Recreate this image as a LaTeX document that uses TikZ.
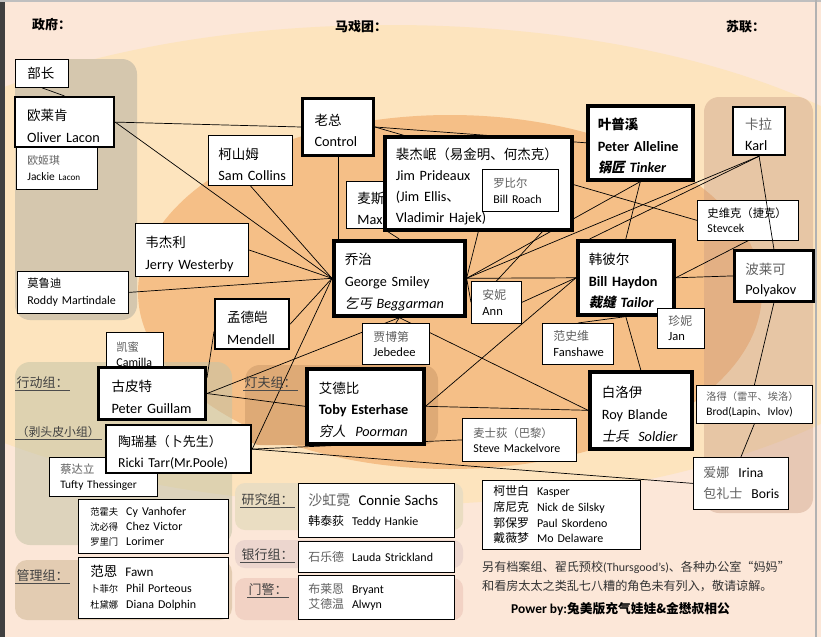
\documentclass[tikz,border=0pt]{standalone}
\usepackage{fontspec}
\setmainfont{Carlito}[Scale=1.14]
\newfontfamily\zhfont{Noto Sans CJK SC}[Scale=1.08]
\newfontfamily\zhslfont{Noto Sans CJK SC}[Scale=1.08,FakeSlant=0.2]
\newcommand\zhsize[1]{\ifx\relax#1\relax\else\fontsize{#1}{\baselineskip}\selectfont\fi}
\newcommand\zh[2][]{{\zhsize{#1}\zhfont #2}}
\newcommand\zhg[2][]{{\zhsize{#1}\color{zhgray}\zhfont #2}}
\newcommand\zhsl[2][]{{\zhsize{#1}\zhslfont #2}}
\newcommand\fsz[2]{\fontsize{#1}{#2}\selectfont}
\definecolor{zhgray}{HTML}{5F5F5F}
\definecolor{peach}{HTML}{FCE7D8}
\definecolor{paleyellow}{HTML}{FDE4BE}
\definecolor{orangefill}{HTML}{F5BF87}
\definecolor{govtfill}{HTML}{D5C7AE}
\definecolor{sovietfill}{HTML}{C89A80}
\definecolor{actionfill}{HTML}{C5C4A6}
\definecolor{adminfill}{HTML}{E3CCB2}
\definecolor{lampfill}{HTML}{DEAA76}
\definecolor{researchfill}{HTML}{EADDC2}
\definecolor{bankfill}{HTML}{ECD6CE}
\definecolor{guardfill}{HTML}{F2D2C4}
\pgfdeclarelayer{shapes}
\pgfdeclarelayer{links}
\pgfsetlayers{shapes,links,main}

\begin{document}
\begin{tikzpicture}[x=1pt,y=-1pt,
  pbox/.style={draw, fill=white, line width=0.8pt, anchor=north west, align=left, inner ysep=0pt},
  mbox/.style={pbox, line width=2.2pt},
  kbox/.style={pbox, line width=3.6pt},
  low/.style={execute at begin node={\rule{0pt}{1.3em}}},
  bx/.code n args={3}{\pgfmathsetmacro\boxtw{#1-2*#3}%
    \edef\boxopts{minimum width=#1pt, minimum height=#2pt, inner xsep=#3pt, text width=\boxtw pt}%
    \expandafter\pgfkeysalso\expandafter{\boxopts}},
  title/.style={anchor=west, inner sep=0pt, font=\fsz{12}{14}\bfseries},
  grp/.style={anchor=west, inner sep=1.5pt, font=\fsz{12}{14}, text=black!75},
  link/.style={line width=0.7pt}]
\useasboundingbox (0,0) rectangle (821,637);

\begin{pgfonlayer}{shapes}
\fill[peach] (0,0) rectangle (821,637);
\fill[paleyellow] (390,265) ellipse [x radius=575, y radius=240];
\fill[orangefill] (450,292) ellipse [x radius=312, y radius=177];
\fill[govtfill, rounded corners=15pt] (15,59) rectangle (137,320);
\fill[sovietfill, opacity=0.4, rounded corners=15pt] (704,97) rectangle (813,513);
\fill[actionfill, opacity=0.55, rounded corners=15pt] (15,362) rectangle (232,545);
\fill[adminfill, rounded corners=12pt] (15,560) rectangle (232,620);
\fill[lampfill, rounded corners=15pt] (245,365) rectangle (438,445);
\fill[researchfill, rounded corners=10pt] (235,483) rectangle (463,530);
\fill[bankfill, rounded corners=10pt] (235,540) rectangle (463,568);
\fill[guardfill, rounded corners=10pt] (235,578) rectangle (463,620);
\fill[black!75] (0,0) rectangle (5,637);
\fill[black!25] (0,0) rectangle (821,2);
\fill[black!30] (815,0) rectangle (817,637);
\end{pgfonlayer}

% headings
\node[title] (zhengfu) at (32,25) {\zh{政府：}};
\node[title] (maxituan) at (335,27) {\zh{马戏团：}};
\node[title] (sulian) at (726,27) {\zh{苏联：}};

% government
\node[pbox, bx={53}{28}{12}, font=\fsz{12.5}{15}] (buzhang) at (15,59) {\zh{部长}};
\node[pbox, bx={81}{43}{11}, font=\fsz{10}{16}] (jackie) at (16,146) {\zhg[10]{欧姬琪}\\Jackie~{\fsz{8}{16}Lacon}};
\node[mbox, low, bx={99}{50}{12}, font=\fsz{12.5}{22}] (lacon) at (14,96) {\zh[12.5]{欧莱肯}\\Oliver~Lacon};
\node[pbox, bx={111}{42}{10}, font=\fsz{10.5}{17}] (roddy) at (17,271) {\zh[10.5]{莫鲁迪}\\Roddy~Martindale};

% circus
\node[pbox, low, bx={84}{50}{10}, font=\fsz{12.5}{21}] (collins) at (208,135) {\zh[12.5]{柯山姆}\\Sam~Collins};
\node[kbox, low, line width=3pt, bx={71}{57}{12}, font=\fsz{12.5}{21}] (control) at (301,97) {\zh[12.5]{老总}\\Control};
\node[pbox, low, bx={74}{47}{11}, font=\fsz{12.5}{21}] (max) at (346,181) {\zh[12.5]{麦斯}\\Max};
\node[kbox, low, bx={187}{93}{11}, font=\fsz{12.5}{21}] (jim) at (383,135) {\zh[12.5]{裴杰岷（易金明、何杰克）}\\Jim~Prideaux\\(Jim~Ellis\zh[12.5]{、}\\Vladimir~Hajek)};
\node[pbox, bx={76}{42}{11}, font=\fsz{10.5}{16}] (roach) at (482,169) {\zhg[10.5]{罗比尔}\\Bill~Roach};
\node[kbox, low, bx={105}{74}{10}, font=\fsz{12.5}{21.5}\bfseries] (alleline) at (586,104) {\zh[12.5]{叶普溪}\\Peter~Alleline\\\zhsl[12.5]{锅匠}~\textit{Tinker}};
\node[pbox, low, bx={113}{53}{10}, font=\fsz{12.5}{22}] (jerry) at (135,223) {\zh[12.5]{韦杰利}\\Jerry~Westerby};
\node[kbox, low, bx={131}{75}{11}, font=\fsz{12.5}{22}] (smiley) at (332,239) {\zh[12.5]{乔治}\\George~Smiley\\\zhsl[12.5]{乞丐}~\textit{Beggarman}};
\node[pbox, bx={50}{42}{11}, font=\fsz{11}{16}] (ann) at (471,281) {\zhg[11]{安妮}\\Ann};
\node[kbox, low, bx={96}{74}{11}, font=\fsz{12.5}{21.5}] (haydon) at (576,239) {\zh[12.5]{韩彼尔}\\\textbf{Bill~Haydon}\\\textbf{\zhsl[12.5]{裁缝}~\textit{Tailor}}};
\node[pbox, bx={67}{41}{11}, font=\fsz{11}{15.5}] (jebedee) at (362,323) {\zhg[11]{贾博第}\\Jebedee};
\node[mbox, low, bx={74}{50}{12}, font=\fsz{12.5}{22}] (mendell) at (214,298) {\zh[12.5]{孟德皑}\\Mendell};
\node[pbox, bx={71}{41}{11}, font=\fsz{11}{16}] (fanshawe) at (542,323) {\zhg[11]{范史维}\\Fanshawe};
\node[pbox, bx={47}{40}{11}, font=\fsz{11}{15}] (jan) at (657,308) {\zhg[11]{珍妮}\\Jan};
\node[kbox, low, bx={117}{75}{12}, font=\fsz{12.5}{21.5}] (toby) at (305,367) {\zh[12.5]{艾德比}\\\textbf{Toby~Esterhase}\\\zhsl[12.5]{穷人}~~\textit{Poorman}};
\node[kbox, low, bx={102}{77}{12}, font=\fsz{12.5}{22}] (roy) at (588,370) {\zh[12.5]{白洛伊}\\Roy~Blande\\\zhsl[12.5]{士兵}~~\textit{Soldier}};
\node[pbox, bx={114}{43}{11}, font=\fsz{10.5}{15}] (steve) at (462,418) {\zhg[10.5]{麦士荻（巴黎）}\\Steve~Mackelvore};

% soviets
\node[mbox, low, bx={52}{48}{12}, font=\fsz{12.5}{21}] (karl) at (732,106) {\zhg[12.5]{卡拉}\\Karl};
\node[pbox, bx={101}{40}{10}, font=\fsz{10.5}{15}] (stevcek) at (697,200) {\zh[10.5]{史维克（捷克）}\\Stevcek};
\node[kbox, low, line width=2.8pt, bx={79}{51}{11}, font=\fsz{12.5}{20}] (polyakov) at (733,249) {\zhg[12.5]{波莱可}\\Polyakov};
\node[pbox, bx={116}{38}{10}, font=\fsz{10}{15}] (brod) at (696,385) {\zhg[9.5]{洛得（雷平、埃洛）}\\Brod(Lapin\zh[10]{、}Ivlov)};
\node[pbox, bx={95}{52}{10}, font=\fsz{12}{21}] (irina) at (693,457) {\zhg[12]{爱娜}~~Irina\\\zhg[12]{包礼士}~~Boris};

% action group
\node[grp] (xingdong) at (15,383) {\zh{行动组：}};
\node[grp, font=\fsz{11}{13}] (botoupi) at (15,432) {\zh{（剥头皮小组）}};
\node[pbox, bx={57}{43}{10}, font=\fsz{10.5}{15}] (camilla) at (106,332) {\zhg[10.5]{凯蜜}\\Camilla};
\node[kbox, low, line width=3pt, bx={107}{52}{13}, font=\fsz{12.5}{22}] (guillam) at (97,366) {\zh[12.5]{古皮特}\\Peter~Guillam};
\node[pbox, bx={108}{39}{11}, font=\fsz{10}{15}] (tufty) at (49,457) {\zhg[10.5]{蔡达立}\\Tufty~Thessinger};
\node[mbox, low, bx={145}{48}{12}, font=\fsz{12}{21}] (ricki) at (105,424) {\zh[12]{陶瑞基（卜先生）}\\Ricki~Tarr(Mr.Poole)};
\node[pbox, bx={150}{54}{12}, font=\fsz{10.5}{15}] (cy) at (78,499) {\zh[8.6]{范霍夫}~~Cy~Vanhofer\\\zh[8.6]{沈必得}~~Chez~Victor\\\zh[8.6]{罗里门}~~Lorimer};
\node[grp] (guanli) at (15,576) {\zh{管理组：}};
\node[pbox, bx={150}{61}{12}, font=\fsz{10.5}{16}] (fawn) at (78,557) {\zh[12.5]{范恩}~~{\fsz{11.5}{16}Fawn}\\\zh[8.6]{卜菲尔}~~Phil~Porteous\\\zh[8.6]{杜黛娜}~~Diana~Dolphin};
\node[grp] (dengfu) at (243,383) {\zh{灯夫组：}};

% research, bank, gate
\node[grp] (yanjiu) at (240,500) {\zh{研究组：}};
\node[pbox, bx={156}{54}{10}, font=\fsz{10.5}{20}] (connie) at (298,483) {\zhg[13]{沙虹霓}~~{\fsz{13}{20}Connie~Sachs}\\\zh[11]{韩泰荻}~~Teddy~Hankie};
\node[grp] (yinhang) at (240,555) {\zh{银行组：}};
\node[pbox, bx={156}{31}{10}, font=\fsz{10.5}{15}] (lauda) at (298,541) {\zhg[11]{石乐德}~~Lauda~Strickland};
\node[grp] (menjing) at (247,590) {\zh{门警：}};
\node[pbox, bx={156}{44}{10}, font=\fsz{10.5}{15}] (bryant) at (298,575) {\zhg[11]{布莱恩}~~Bryant\\\zhg[11]{艾德温}~~Alwyn};
\node[pbox, bx={158}{69}{11}, font=\fsz{10.5}{15.7}] (kasper) at (482,480) {\zh[11]{柯世白}~~Kasper\\\zh[11]{席尼克}~~Nick~de~Silsky\\\zh[11]{郭保罗}~~Paul~Skordeno\\\zh[11]{戴薇梦}~~Mo~Delaware};

% notes
\node[anchor=west, inner sep=0pt, font=\fsz{10.5}{13}, text=black!80] (note1) at (482,567) {\zh[11.2]{另有档案组、翟氏预校}(Thursgood's)\zh[11.2]{、各种办公室“妈妈”}};
\node[anchor=west, inner sep=0pt, font=\fsz{11.2}{13}, text=black!80] (note2) at (482,586) {\zh{和看房太太之类乱七八糟的角色未有列入，敬请谅解。}};
\node[anchor=west, inner sep=0pt, font=\fsz{11.8}{14}\bfseries] (power) at (511,609) {Power by:\zh{兔美版充气娃娃\&金懋叔相公}};

% underlines
\foreach \g in {xingdong,botoupi,guanli,dengfu,yanjiu,yinhang,menjing}
  \draw[line width=0.6pt, black!70] (\g.south west) -- (\g.south east);

\begin{pgfonlayer}{links}
\path[draw,link] (buzhang.south) -- (lacon.north);
\path[draw,link] (lacon.east) -- (control.west);
\path[draw,link] (lacon.east) -- (smiley.west);
\path[draw,link] (collins.south) -- (smiley.west);
\path[draw,link] (control.south) -- (control.south |- smiley.north);
\path[draw,link] (control.east) -- (alleline.west);
\path[draw,link] (control.east) -- (stevcek.west);
\path[draw,link] (jerry.east) -- (smiley.west);
\path[draw,link] (roddy.east) -- (smiley.west);
\path[draw,link] (mendell.east) -- (smiley.west);
\path[draw,link] (guillam.16) -- (mendell.191);
\path[draw,link] (guillam.east) -- (smiley.south);
\path[draw,link] (guillam.east) -- (toby.west);
\path[draw,link] (smiley.south) -- (jebedee.north);
\path[draw,link] (smiley.south) -- (roy.west);
\path[draw,link] (toby.east) -- (haydon.west);
\path[draw,link] (toby.east) -- (roy.west);
\path[draw,link] (ricki.east) -- (smiley.west);
\path[draw,link] (ricki.east) -- (steve.west);
\path[draw,link] (ricki.east) -- (irina.west);
\path[draw,link] (smiley.east) -- (haydon.west);
\path[draw,link] (smiley.east) -- (ann.west);
\path[draw,link] (ann.east) -- (haydon.west);
\path[draw,link] (smiley.east) -- (jim.south);
\path[draw,link] (jim.-37) -- (ann.north);
\path[draw,link] (max.south) -- (smiley.north);
\path[draw,link] (karl.south) -- (smiley.east);
\path[draw,link] (karl.south) -- (haydon.133);
\path[draw,link] (alleline.south) -- (smiley.east);
\path[draw,link] (alleline.south) -- (haydon.north);
\path[draw,link] (fanshawe.north) -- (haydon.south);
\path[draw,link] (haydon.south) -- (roy.north);
\path[draw,link] (polyakov.west) -- (haydon.east);
\path[draw,link] (polyakov.south) -- (brod.north);
\path[draw,link] (brod.south) -- (irina.north);
\path[draw,link] (haydon.east) -- (stevcek.south);
\end{pgfonlayer}
\path[draw,link] (karl.south) -- (polyakov.north);
\end{tikzpicture}
\end{document}
